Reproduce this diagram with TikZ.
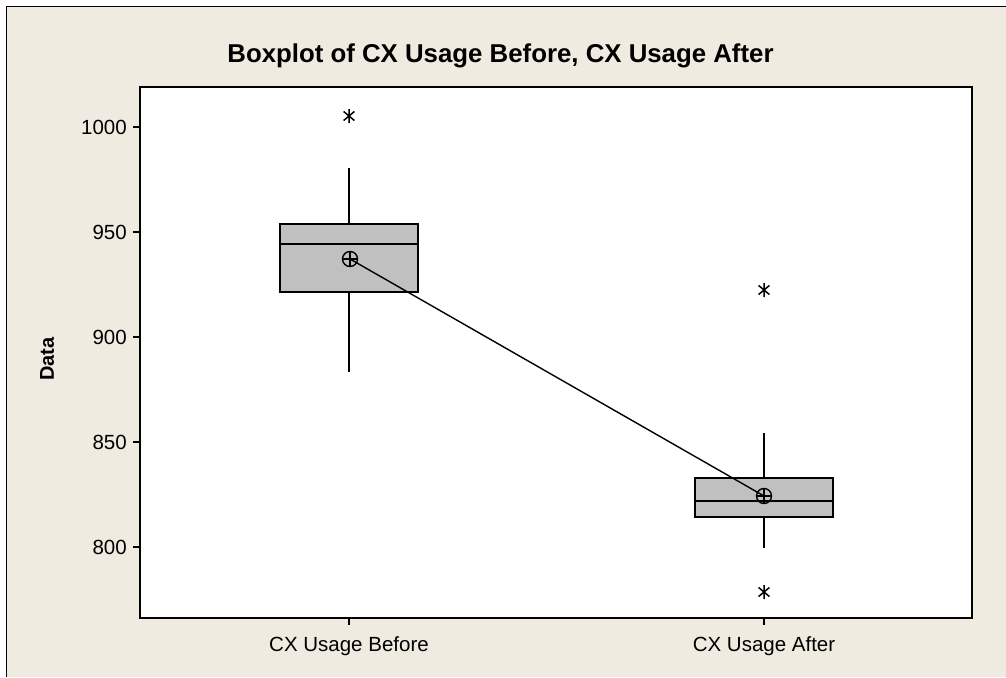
\documentclass[tikz,border=0pt]{standalone}
\usepackage{fontspec}
\setmainfont{Liberation Sans}
\definecolor{panel}{RGB}{239,235,224}
\definecolor{boxgray}{RGB}{192,192,192}
\tikzset{
  axisline/.style={line width=1.5pt},
  boxline/.style={line width=1.4pt},
  boxbody/.style={draw, line width=1.4pt, fill=boxgray},
  ticklab/.style={font=\fontsize{20.5}{22}\selectfont, inner sep=0pt},
  meanmark/.style={circle, draw, line width=1.4pt, minimum size=15pt, inner sep=0pt,
    path picture={
      \draw[line width=1.4pt] (path picture bounding box.north) -- (path picture bounding box.south)
        (path picture bounding box.west) -- (path picture bounding box.east);}},
  outlier/.style={minimum size=14pt, inner sep=0pt,
    path picture={
      \draw[line width=1.5pt] (path picture bounding box.north) -- (path picture bounding box.south)
        ([shift={(40:7pt)}]path picture bounding box.center) -- ([shift={(220:7pt)}]path picture bounding box.center)
        ([shift={(140:7pt)}]path picture bounding box.center) -- ([shift={(320:7pt)}]path picture bounding box.center);}}
}
\begin{document}
\begin{tikzpicture}[x=1pt, y=-1pt]
    % Panel and frame
    \useasboundingbox (0,0) rectangle (1006,677);
    \fill[panel] (7,7) rectangle (1006,677);
    \draw[line width=1.3pt] (6.5,677) -- (6.5,6.5) -- (1006,6.5);

    % Title and axis label
    \node[font=\fontsize{25.8}{28}\selectfont\bfseries] (title) at (500.5,56) {Boxplot of CX Usage Before, CX Usage After};
    \node[font=\fontsize{20}{22}\selectfont\bfseries, rotate=90] (ylab) at (47,359) {Data};

    % Plot area
    \filldraw[fill=white, axisline] (140,87) rectangle (972,618);

    % Y ticks
    \foreach \v/\py in {1000/127, 950/232, 900/337, 850/442, 800/547} {
      \draw[boxline] (133,\py) -- (140,\py);
      \node[ticklab, anchor=east] (y\v) at (127,\py) {\v};
    }

    % X ticks
    \draw[boxline] (349,618) -- (349,625);
    \draw[boxline] (764,618) -- (764,625);
    \node[ticklab, anchor=base] (xb) at (349,651) {CX Usage Before};
    \node[ticklab, anchor=base] (xa) at (764,651) {CX Usage After};

    % Box for CX Usage Before
    \draw[boxline] (349,224) -- (349,168);
    \draw[boxline] (349,292) -- (349,372);
    \draw[boxbody] (280,224) rectangle (418,292);
    \draw[boxline] (280,244) -- (418,244);
    \node[outlier] (oB) at (349,116) {};

    % Box for CX Usage After
    \draw[boxline] (764,478) -- (764,433);
    \draw[boxline] (764,517) -- (764,548);
    \draw[boxbody] (695,478) rectangle (833,517);
    \draw[boxline] (695,501) -- (833,501);
    \node[outlier] (oA1) at (764,290) {};
    \node[outlier] (oA2) at (764,592) {};

    % Means and connecting line
    \node[meanmark] (mB) at (350,259) {};
    \node[meanmark] (mA) at (764,496) {};
    \draw[line width=1.4pt] (mB.center) -- (mA.center);
\end{tikzpicture}
\end{document}
